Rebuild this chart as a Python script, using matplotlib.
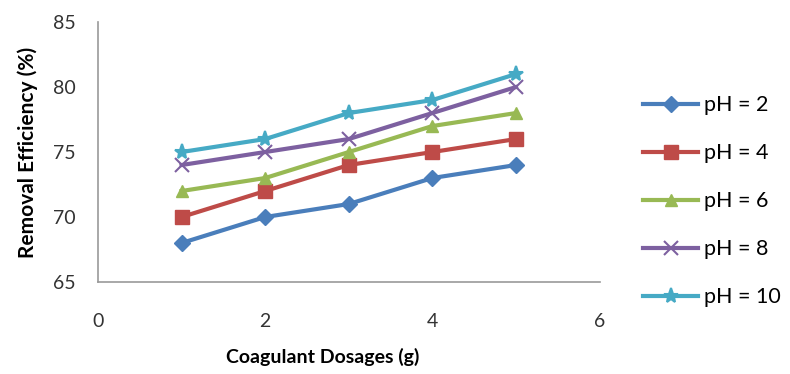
import matplotlib.pyplot as plt

# coagulant dosage (g) vs removal efficiency (%)
dosages = [1, 2, 3, 4, 5]
ph2 = [68, 70, 71, 73, 74]
ph4 = [70, 72, 74, 75, 76]
ph6 = [72, 73, 75, 77, 78]
ph8 = [74, 75, 76, 78, 80]
ph10 = [75, 76, 78, 79, 81]
labels = ['pH = 2', 'pH = 4', 'pH = 6', 'pH = 8', 'pH = 10']

plt.rcParams['font.family'] = ['Lato', 'DejaVu Sans']

fig = plt.figure(figsize=(7.9, 3.74), dpi=100)
ax = fig.add_axes([0.124, 0.246, 0.635, 0.695])

series = [ph2, ph4, ph6, ph8, ph10]
colors = ['#4A7EBB', '#BE4B48', '#98B954', '#7D60A0', '#46AAC5']
markers = ['D', 's', '^', 'x', '*']
sizes = [8, 10, 9, 10, 11]

for vals, lab, c, m, s in zip(series, labels, colors, markers, sizes):
    ax.plot(dosages, vals, color=c, marker=m, markersize=s, linewidth=3,
            markeredgewidth=1.5 if m in ('x', '*') else 1, label=lab)

ax.set_xlim(0, 6)
ax.set_ylim(65, 85)
ax.set_xticks([0, 2, 4, 6])
ax.set_yticks([65, 70, 75, 80, 85])
ax.tick_params(length=0, labelsize=14, colors='#333333')
ax.tick_params(axis='x', pad=22)
ax.tick_params(axis='y', pad=16)

for side in ['top', 'right']:
    ax.spines[side].set_visible(False)
for side in ['left', 'bottom']:
    ax.spines[side].set_color('#999999')
    ax.spines[side].set_linewidth(1.2)

ax.set_xlabel('Coagulant Dosages (g)', fontsize=14, fontweight='bold')
ax.set_ylabel('Removal Efficiency (%)', fontsize=15, fontweight='bold')
ax.xaxis.set_label_coords(0.448, -0.255)
ax.yaxis.set_label_coords(-0.12, 0.5)

fig.legend(loc='upper left', bbox_to_anchor=(0.814, 0.745), frameon=False,
           borderpad=0, borderaxespad=0,
           fontsize=15.5, labelspacing=1.3, handlelength=2.55, handletextpad=0.3)

fig.savefig('out.png', dpi=100)
